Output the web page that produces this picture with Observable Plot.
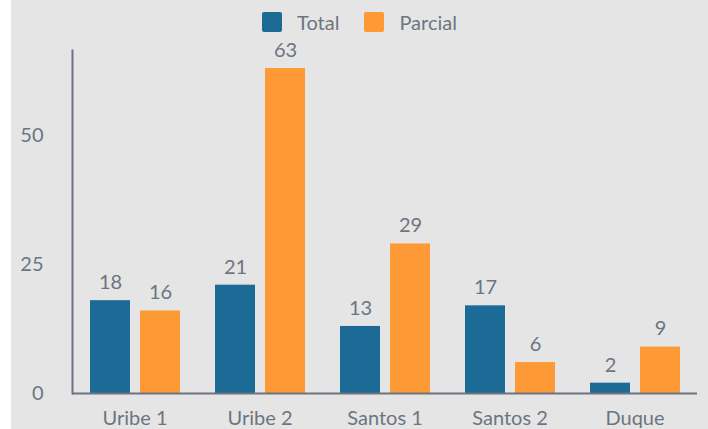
<!DOCTYPE html>
<html>
<head>
<meta charset="utf-8">
<script src="https://cdn.jsdelivr.net/npm/d3@7"></script>
<script src="https://cdn.jsdelivr.net/npm/@observablehq/plot@0.6"></script>
<style>
  html, body { margin: 0; padding: 0; background: #ffffff; }
  #wrap { position: relative; margin-left: 11px; width: 697px; height: 429px; background: #e5e5e5; overflow: hidden; font-family: Lato, sans-serif; }
  #legend { position: absolute; top: 12px; left: 0; width: 100%; height: 20px; display: flex; justify-content: center; align-items: center; font-size: 20px; color: #6c7580; }
  .sw { width: 20px; height: 20px; border-radius: 2px; margin-right: 15px; }
  .item { display: flex; align-items: center; margin: 0 12.5px; }
  #chart { position: absolute; top: 0; left: 0; }
</style>
</head>
<body>
<div id="wrap">
  <div id="chart"></div>
  <div id="legend"></div>
</div>
<script>
const categories = ["Uribe 1", "Uribe 2", "Santos 1", "Santos 2", "Duque"];
const seriesNames = ["Total", "Parcial"];
const totalValues = [18, 21, 13, 17, 2];
const parcialValues = [16, 63, 29, 6, 9];
const seriesColors = ["#1c6a96", "#fe9a35"];
const yTicks = [0, 25, 50];

const data = [];
categories.forEach((c, i) => {
  data.push({category: c, series: "Total", value: totalValues[i]});
  data.push({category: c, series: "Parcial", value: parcialValues[i]});
});

const textColor = "#6c7580";
const axisColor = "#6b7480";

const legend = document.getElementById("legend");
seriesNames.forEach((s, i) => {
  const item = document.createElement("div");
  item.className = "item";
  const sw = document.createElement("div");
  sw.className = "sw";
  sw.style.background = seriesColors[i];
  const lab = document.createElement("span");
  lab.textContent = s;
  item.appendChild(sw);
  item.appendChild(lab);
  legend.appendChild(item);
});

const chart = Plot.plot({
  width: 697,
  height: 429,
  marginLeft: 61,
  marginRight: 11,
  marginTop: 50,
  marginBottom: 36,
  style: {background: "transparent", fontFamily: "Lato, sans-serif", fontSize: "20px", color: textColor},
  fx: {domain: categories, padding: 0, label: null, tickSize: 0, tickPadding: 17},
  x: {domain: seriesNames, paddingInner: 0.2, paddingOuter: 0.35, axis: null},
  y: {domain: [0, 66.5], ticks: yTicks, tickSize: 0, tickPadding: 29, label: null},
  color: {domain: seriesNames, range: seriesColors},
  marks: [
    Plot.barY(data, {fx: "category", x: "series", y: "value", fill: "series"}),
    Plot.text(data, {fx: "category", x: "series", y: "value", text: d => String(d.value), dy: -18, fill: textColor, fontSize: 20}),
    Plot.ruleY([0], {stroke: axisColor, strokeWidth: 2}),
    Plot.frame({anchor: "left", facetAnchor: "left", stroke: axisColor, strokeWidth: 2})
  ]
});
document.getElementById("chart").appendChild(chart);
</script>
</body>
</html>
